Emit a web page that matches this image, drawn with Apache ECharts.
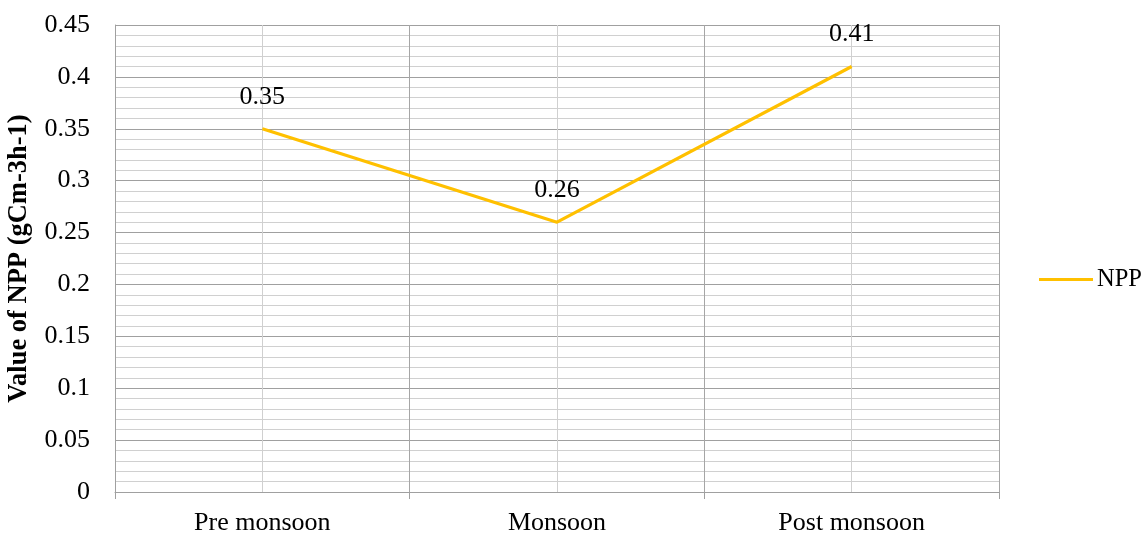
<!DOCTYPE html>
<html>
<head>
<meta charset="utf-8">
<script src="https://cdn.jsdelivr.net/npm/echarts@6/dist/echarts.min.js"></script>
<style>html,body{margin:0;padding:0;background:#fff;}#c{width:1147px;height:536px;}</style>
</head>
<body>
<div id="c"></div>
<script>
var categories = ['Pre monsoon', 'Monsoon', 'Post monsoon'];
var nppValues = [0.35, 0.26, 0.41];
var seriesName = 'NPP';
var yAxisTitle = 'Value of NPP (gCm-3h-1)';

var FONT = '"Liberation Serif", "Times New Roman", serif';
var chart = echarts.init(document.getElementById('c'));
chart.setOption({
  animation: false,
  backgroundColor: '#ffffff',
  textStyle: { fontFamily: FONT, color: '#000' },
  grid: { left: 115, right: 148, top: 25, bottom: 44, containLabel: false, outerBoundsMode: 'none' },
  legend: {
    data: [{ name: seriesName, icon: 'rect' }],
    left: 1034, top: 262,
    itemWidth: 54, itemHeight: 3, itemGap: 0,
    textStyle: { fontFamily: FONT, fontSize: 24.5, color: '#000', padding: [0, 0, 0, -1] }
  },
  xAxis: [{
    type: 'category',
    data: categories,
    boundaryGap: true,
    axisLine: { show: true, lineStyle: { color: '#a0a0a0', width: 1 } },
    axisTick: { show: true, length: 7, lineStyle: { color: '#a0a0a0' } },
    axisLabel: { fontFamily: FONT, fontSize: 26, color: '#000', margin: 18 },
    splitLine: { show: true, lineStyle: { color: '#a6a6a6', width: 1 } }
  }, {
    type: 'value',
    min: 0, max: 3, interval: 0.5,
    position: 'bottom',
    axisLine: { show: false }, axisTick: { show: false }, axisLabel: { show: false },
    splitLine: { show: true, lineStyle: { color: ['#a6a6a6', '#d0d0d0'], width: 1 } }
  }],
  yAxis: {
    type: 'value',
    min: 0, max: 0.45, interval: 0.05,
    name: yAxisTitle,
    nameLocation: 'middle',
    nameGap: 82,
    nameTextStyle: { fontFamily: FONT, fontSize: 26.5, fontWeight: 'bold', color: '#000' },
    axisLine: { show: true, lineStyle: { color: '#a0a0a0' } },
    axisTick: { show: false },
    axisLabel: { fontFamily: FONT, fontSize: 26, color: '#000', margin: 25,
      formatter: function (v) { return String(parseFloat(v.toFixed(2))); } },
    splitLine: { show: true, lineStyle: { color: '#a0a0a0', width: 1 } },
    minorTick: { show: false, splitNumber: 5 },
    minorSplitLine: { show: true, lineStyle: { color: '#d0d0d0', width: 1 } }
  },
  series: [{
    name: seriesName,
    type: 'line',
    data: nppValues,
    xAxisIndex: 0,
    symbol: 'circle',
    symbolSize: 0.1,
    showSymbol: true,
    lineStyle: { color: '#FFC000', width: 3.2 },
    itemStyle: { color: '#FFC000' },
    label: { show: true, position: 'top', distance: 19, fontFamily: FONT, fontSize: 26, color: '#000' }
  }]
});
</script>
</body>
</html>
